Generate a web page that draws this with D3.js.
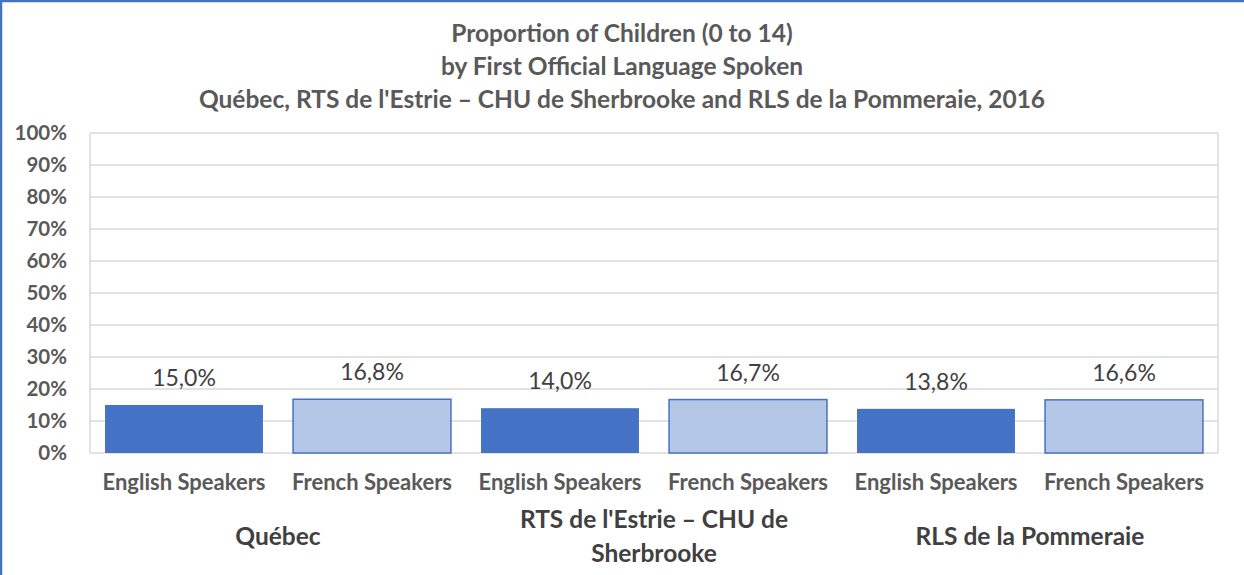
<!DOCTYPE html>
<html>
<head>
<meta charset="utf-8">
<script src="https://cdn.jsdelivr.net/npm/d3@7"></script>
<style>
  html, body { margin: 0; padding: 0; background: #fff; }
  svg { display: block; font-family: Lato, "Open Sans", sans-serif; }
</style>
</head>
<body>
<svg id="svg"></svg>
<script>
// chart data
const regions = ["Québec", "RTS de l'Estrie – CHU de Sherbrooke", "RLS de la Pommeraie"];
const regionLines = [["Québec"], ["RTS de l'Estrie – CHU de", "Sherbrooke"], ["RLS de la Pommeraie"]];
const speakers = ["English Speakers", "French Speakers"];
const values = [15.0, 16.8, 14.0, 16.7, 13.8, 16.6];
const yTicks = [0, 10, 20, 30, 40, 50, 60, 70, 80, 90, 100];
const titleLines = [
  "Proportion of Children (0 to 14)",
  "by First Official Language Spoken",
  "Québec, RTS de l'Estrie – CHU de Sherbrooke and RLS de la Pommeraie, 2016"
];

const width = 1244, height = 575;
const margin = {top: 133, right: 26, bottom: 122, left: 90};

const rows = [];
regions.forEach((r, i) => speakers.forEach((s, j) => {
  rows.push({key: i + "-" + j, region: i, speaker: s, lang: j, value: values[i * 2 + j]});
}));

const svg = d3.select("#svg")
    .attr("width", width)
    .attr("height", height);

// frame (only top and left edges show)
svg.append("path")
    .attr("d", `M1,${height} V1 H${width}`)
    .attr("fill", "none")
    .attr("stroke", "#4472C4")
    .attr("stroke-width", 2.5);

const x = d3.scaleBand()
    .domain(rows.map(d => d.key))
    .range([margin.left, width - margin.right])
    .paddingInner(0.16)
    .paddingOuter(0.08);

const y = d3.scaleLinear()
    .domain([0, 100])
    .range([height - margin.bottom, margin.top]);

// title
svg.append("g")
    .attr("text-anchor", "middle")
    .attr("font-weight", "bold")
    .attr("font-size", 24.5)
    .attr("fill", "#595959")
  .selectAll("text")
  .data(titleLines)
  .join("text")
    .attr("x", width / 2)
    .attr("y", (d, i) => 42 + i * 33)
    .text(d => d);

// gridlines
svg.append("g")
  .selectAll("line")
  .data(yTicks)
  .join("line")
    .attr("x1", margin.left)
    .attr("x2", width - margin.right)
    .attr("y1", d => y(d))
    .attr("y2", d => y(d))
    .attr("stroke", "#d9d9d9")
    .attr("stroke-width", 1.5);

// plot area side borders
svg.append("g")
  .selectAll("line")
  .data([margin.left, width - margin.right])
  .join("line")
    .attr("x1", d => d).attr("x2", d => d)
    .attr("y1", y(100)).attr("y2", y(0))
    .attr("stroke", "#d9d9d9")
    .attr("stroke-width", 1.5);

// y axis
const yAxis = svg.append("g")
    .attr("transform", `translate(${margin.left},0)`)
    .call(d3.axisLeft(y).tickValues(yTicks).tickFormat(d => d + "%").tickSize(0).tickPadding(23));
yAxis.select(".domain").remove();
yAxis.selectAll("text")
    .attr("font-family", "Lato, 'Open Sans', sans-serif")
    .attr("font-size", 20.5)
    .attr("font-weight", "bold")
    .attr("fill", "#595959");

// bars
svg.append("g")
  .selectAll("rect")
  .data(rows)
  .join("rect")
    .attr("x", d => x(d.key))
    .attr("y", d => y(d.value))
    .attr("width", x.bandwidth())
    .attr("height", d => y(0) - y(d.value))
    .attr("fill", d => d.lang === 0 ? "#4472C4" : "#B4C7E7")
    .attr("stroke", "#4472C4")
    .attr("stroke-width", d => d.lang === 0 ? 0 : 1.5);

// value labels
svg.append("g")
    .attr("text-anchor", "middle")
    .attr("font-size", 23)
    .attr("fill", "#404040")
  .selectAll("text")
  .data(rows)
  .join("text")
    .attr("x", d => x(d.key) + x.bandwidth() / 2)
    .attr("y", d => y(d.value) - 19)
    .text(d => d.value.toFixed(1).replace(".", ",") + "%");

// category labels
svg.append("g")
    .attr("text-anchor", "middle")
    .attr("font-size", 22)
    .attr("font-weight", "bold")
    .attr("fill", "#595959")
  .selectAll("text")
  .data(rows)
  .join("text")
    .attr("x", d => x(d.key) + x.bandwidth() / 2)
    .attr("y", 490)
    .text(d => d.speaker);

// region labels
svg.append("g")
    .attr("text-anchor", "middle")
    .attr("font-size", 24.5)
    .attr("font-weight", "bold")
    .attr("fill", "#404040")
  .selectAll("text")
  .data(regionLines)
  .join("text")
    .attr("x", (d, i) => (x(i + "-0") + x(i + "-1") + x.bandwidth()) / 2)
    .attr("y", d => d.length > 1 ? 528 : 545)
    .selectAll("tspan")
    .data(d => d)
    .join("tspan")
      .attr("x", function() { return d3.select(this.parentNode).attr("x"); })
      .attr("dy", (d, i) => i === 0 ? 0 : 34)
      .text(d => d);
</script>
</body>
</html>
